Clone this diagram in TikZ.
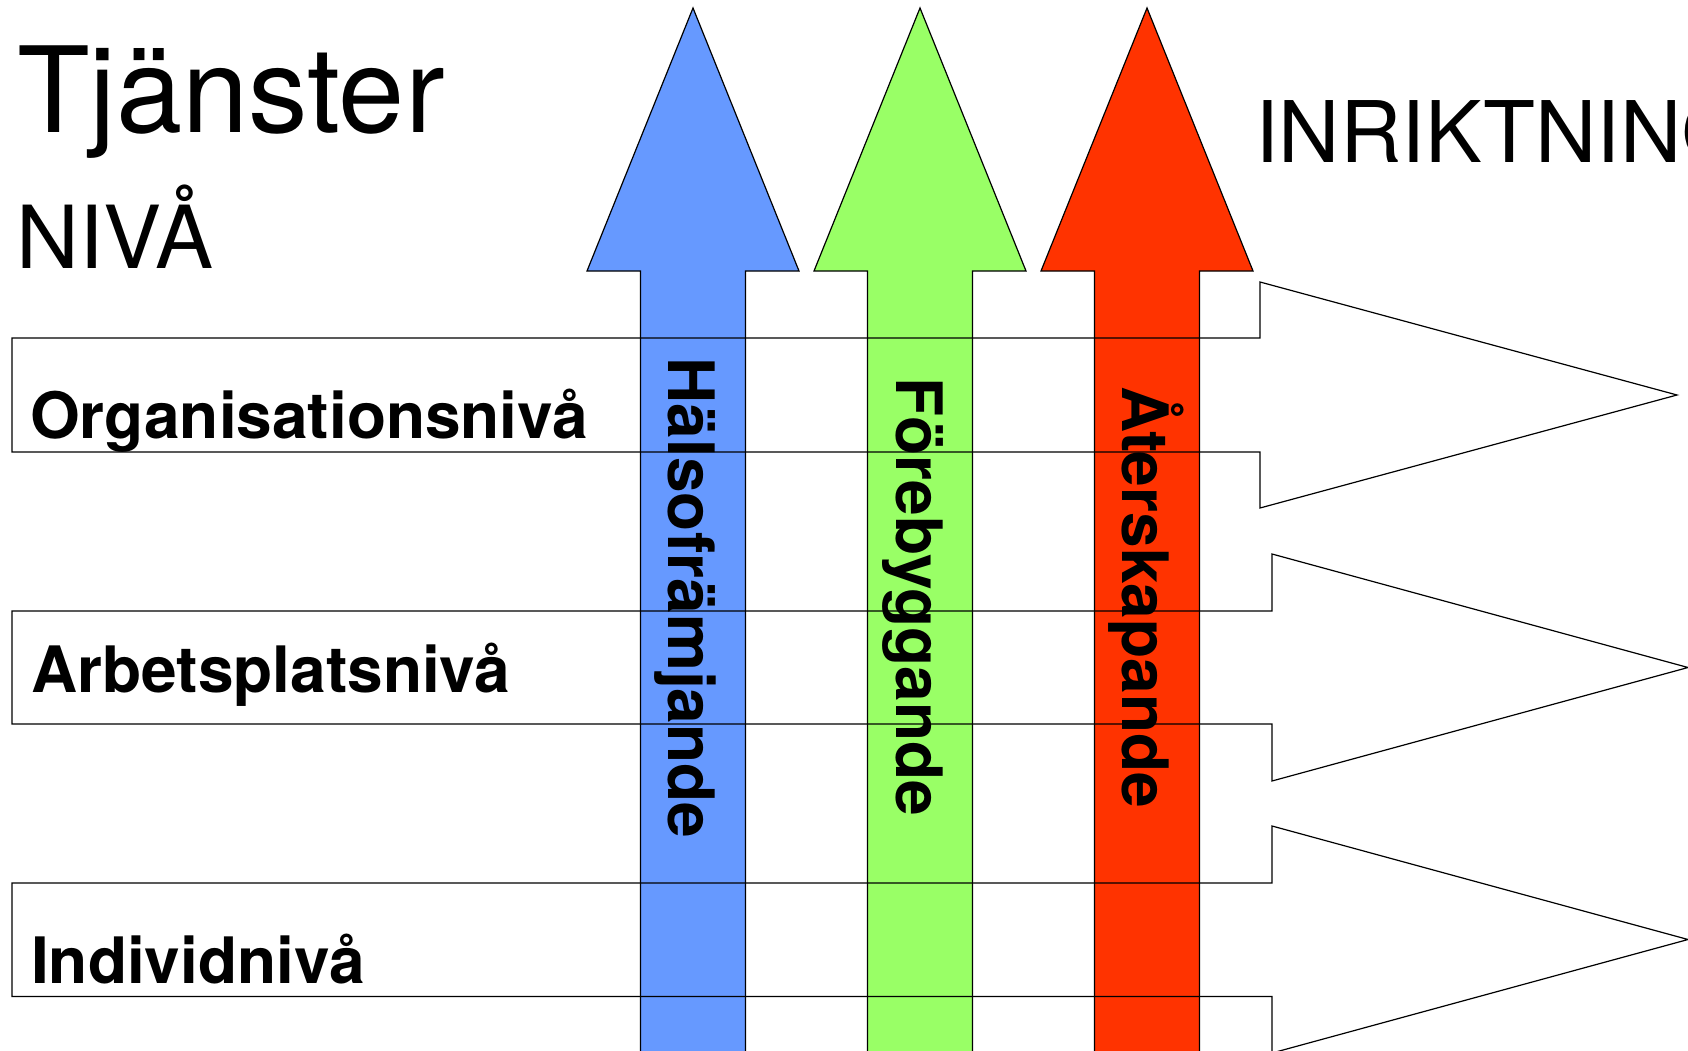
\documentclass[tikz,border=0pt]{standalone}
\usepackage{fontspec}
\setmainfont{TeX Gyre Heros}
\definecolor{arrblue}{HTML}{6699FF}
\definecolor{arrgreen}{HTML}{99FF66}
\definecolor{arrred}{HTML}{FF3300}
\tikzset{
  outl/.style={draw=black, line width=1.2pt, line join=miter},
  vlabel/.style={rotate=-90, anchor=base, inner sep=0pt, font=\fontsize{64}{64}\selectfont\bfseries},
  hlabel/.style={anchor=base west, inner sep=0pt, font=\fontsize{64}{64}\selectfont\bfseries},
  title/.style={anchor=base west, inner sep=0pt},
}
\begin{document}
\begin{tikzpicture}[x=1pt, y=-1pt]
\useasboundingbox (0,0) rectangle (1688,1051);
% vertical arrows
\foreach \cx/\col in {693/arrblue, 920/arrgreen, 1147/arrred}{
  \draw[outl, fill=\col] (\cx-52.5,1070) -- (\cx-52.5,271) -- (\cx-106,271) -- (\cx,8)
     -- (\cx+106,271) -- (\cx+52.5,271) -- (\cx+52.5,1070);
}
% horizontal arrows (outlines)
\draw[outl] (12,338) -- (1260,338) -- (1260,282) -- (1677,395) -- (1260,508) -- (1260,452) -- (12,452) -- cycle;
\draw[outl] (12,611) -- (1272,611) -- (1272,554) -- (1688,667.5) -- (1272,781) -- (1272,724) -- (12,724) -- cycle;
\draw[outl] (12,883) -- (1272,883) -- (1272,826) -- (1688,939.5) -- (1272,1053) -- (1272,996.5) -- (12,996.5) -- cycle;
% titles
\node[title, font=\fontsize{119}{119}\selectfont] (tj) at (17,133) {Tjänster};
\node[title, font=\fontsize{87}{87}\selectfont] (niva) at (16,268) {NIVÅ};
\node[title, font=\fontsize{85}{85}\selectfont] (inr) at (1255,163) {INRIKTNING};
% level labels
\node[hlabel] (org) at (30,438) {Organisationsnivå};
\node[hlabel] (arb) at (31,692) {Arbetsplatsnivå};
\node[hlabel] (ind) at (31,983) {Individnivå};
% vertical labels
\node[vlabel] (hal) at (668,598) {Hälsofrämjande};
\node[vlabel] (for) at (896,597) {Förebyggande};
\node[vlabel] (ater) at (1122,597) {Återskapande};
\end{tikzpicture}
\end{document}
